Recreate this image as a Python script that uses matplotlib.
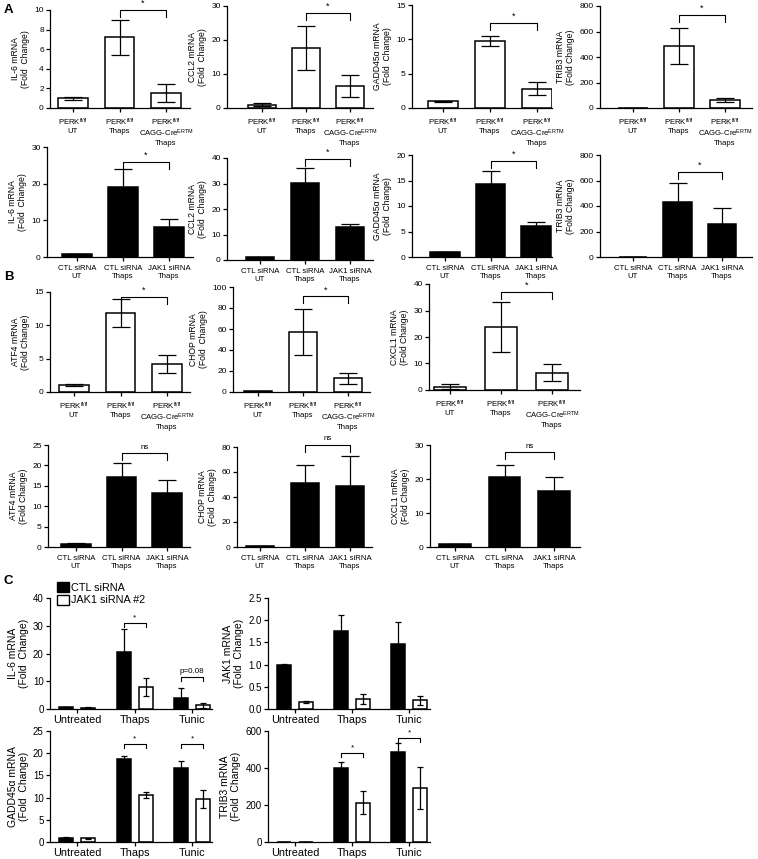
import matplotlib
matplotlib.use('Agg')
import matplotlib.pyplot as plt
import numpy as np
from matplotlib.patches import Patch

plt.rcParams['font.family'] = ['Liberation Sans', 'DejaVu Sans']
plt.rcParams['mathtext.fontset'] = 'custom'
plt.rcParams['mathtext.rm'] = 'Liberation Sans'
plt.rcParams['mathtext.it'] = 'Liberation Sans:italic'
plt.rcParams['mathtext.bf'] = 'Liberation Sans:bold'
plt.rcParams['axes.linewidth'] = 0.9

W, H = 758, 859

# tick labels
perk_labels = [r'PERK$^{\mathrm{fl/fl}}$' + '\nUT',
               r'PERK$^{\mathrm{fl/fl}}$' + '\nThaps',
               r'PERK$^{\mathrm{fl/fl}}$' + '\n' + r'CAGG-Cre$^{\mathrm{ERTM}}$' + '\nThaps']
sirna_labels = ['CTL siRNA\nUT', 'CTL siRNA\nThaps', 'JAK1 siRNA\nThaps']
treat_labels = ['Untreated', 'Thaps', 'Tunic']

# panel A, row 1 (PERK mice)
il6_a1 = [1.0, 7.2, 1.5]
il6_a1_err = [0.15, 1.8, 0.9]
ccl2_a1 = [1.0, 17.7, 6.4]
ccl2_a1_err = [0.5, 6.5, 3.3]
gadd_a1 = [1.0, 9.8, 2.8]
gadd_a1_err = [0.08, 0.7, 0.95]
trib3_a1 = [0, 485, 60]
trib3_a1_err = [0, 140, 15]

# panel A, row 2 (siRNA)
il6_a2 = [0.8, 19.0, 8.3]
il6_a2_err = [0.1, 5.0, 2.1]
ccl2_a2 = [1.0, 30.2, 12.8]
ccl2_a2_err = [0.1, 5.8, 1.2]
gadd_a2 = [1.0, 14.4, 6.0]
gadd_a2_err = [0.05, 2.4, 0.9]
trib3_a2 = [0, 430, 262]
trib3_a2_err = [0, 150, 120]

# panel B, row 1 (PERK mice)
atf4_b1 = [1.0, 11.9, 4.2]
atf4_b1_err = [0.15, 2.1, 1.4]
chop_b1 = [0.8, 57, 13]
chop_b1_err = [0.5, 22, 5.5]
cxcl1_b1 = [1.3, 23.7, 6.6]
cxcl1_b1_err = [1.0, 9.5, 3.3]

# panel B, row 2 (siRNA)
atf4_b2 = [0.8, 17.1, 13.3]
atf4_b2_err = [0.1, 3.4, 3.2]
chop_b2 = [0.8, 51.5, 48.5]
chop_b2_err = [0.1, 14, 24]
cxcl1_b2 = [0.8, 20.6, 16.5]
cxcl1_b2_err = [0.1, 3.6, 4.0]

# panel C (CTL siRNA vs JAK1 siRNA #2)
il6_ctl = [0.8, 20.5, 3.9]
il6_ctl_err = [0.1, 8.3, 3.6]
il6_jak = [0.5, 8.0, 1.3]
il6_jak_err = [0.1, 3.2, 1.0]
jak1_ctl = [1.0, 1.75, 1.47]
jak1_ctl_err = [0.02, 0.36, 0.48]
jak1_jak = [0.15, 0.22, 0.2]
jak1_jak_err = [0.02, 0.11, 0.1]
gadd_ctl = [1.0, 18.8, 16.7]
gadd_ctl_err = [0.1, 0.6, 1.6]
gadd_jak = [0.8, 10.5, 9.7]
gadd_jak_err = [0.05, 0.7, 2.1]
trib3_ctl = [0, 400, 487]
trib3_ctl_err = [0, 33, 48]
trib3_jak = [0, 212, 292]
trib3_jak_err = [0, 62, 113]

fig = plt.figure(figsize=(W / 100, H / 100), dpi=100)


def place(left, right, top, bottom):
    return fig.add_axes([left / W, 1 - bottom / H, (right - left) / W, (bottom - top) / H])


def style(ax, ymax, step, ylabel, fs_tick, fs_lab, fmt='{:g}'):
    ax.spines['top'].set_visible(False)
    ax.spines['right'].set_visible(False)
    ax.set_ylim(0, ymax)
    ticks = np.arange(0, ymax + step / 2, step)
    ax.set_yticks(ticks)
    ax.set_yticklabels([fmt.format(t) for t in ticks], fontsize=fs_tick)
    ax.tick_params(axis='both', direction='out', length=3, width=0.9, pad=1.5)
    ax.set_ylabel(ylabel, fontsize=fs_lab, linespacing=1.15, labelpad=3)


def bracket(ax, x1, x2, y, text, drop_px=7, fs=6):
    ymax = ax.get_ylim()[1]
    h_px = ax.get_position().height * H
    d = drop_px / h_px * ymax
    ax.plot([x1, x1, x2, x2], [y - d, y, y, y - d], color='black', lw=0.8, clip_on=False)
    ax.annotate(text, (np.mean([x1, x2]), y), xytext=(0, 1.5), textcoords='offset points',
                ha='center', va='bottom', fontsize=fs, annotation_clip=False)


def three_bar(box, vals, errs, ymax, step, ylabel, labels, fill, sig_y, sig_text):
    spine, right, c0, c2, top, bottom = box
    s = (c2 - c0) / 2
    ax = place(spine, right, top, bottom)
    x = np.arange(3)
    ax.bar(x, vals, width=0.64, color=fill, edgecolor='black', linewidth=1.1, zorder=2)
    ax.errorbar(x, vals, yerr=errs, fmt='none', ecolor='black', elinewidth=0.9,
                capsize=6.5, capthick=0.9, zorder=3)
    ax.set_xlim((spine - c0) / s, (right - c0) / s)
    style(ax, ymax, step, ylabel, 6, 6.2)
    ax.set_xticks(x)
    ax.set_xticklabels(labels, fontsize=5.6, linespacing=1.05)
    ax.tick_params(axis='x', pad=3)
    bracket(ax, 1, 2, sig_y, sig_text, fs=6.5 if sig_text == '*' else 5.8)
    return ax


def grouped(box, ctl, ctl_e, jak, jak_e, ymax, step, ylabel, fmt, sigs):
    spine, right, c0, c2, top, bottom = box
    s = (c2 - c0) / 2
    ax = place(spine, right, top, bottom)
    x = np.arange(3)
    off = 11 / s
    w = 14 / s
    ax.bar(x - off, ctl, width=w, color='black', edgecolor='black', linewidth=1.1, zorder=2)
    ax.bar(x + off, jak, width=w, color='white', edgecolor='black', linewidth=1.1, zorder=2)
    ax.errorbar(x - off, ctl, yerr=ctl_e, fmt='none', ecolor='black', elinewidth=0.9,
                capsize=2.4, capthick=0.9, zorder=3)
    ax.errorbar(x + off, jak, yerr=jak_e, fmt='none', ecolor='black', elinewidth=0.9,
                capsize=2.4, capthick=0.9, zorder=3)
    ax.set_xlim((spine - c0) / s, (right - c0) / s)
    style(ax, ymax, step, ylabel, 7, 7.5, fmt)
    ax.set_xticks(x)
    ax.set_xticklabels(treat_labels, fontsize=7.8)
    for gi, y, txt in sigs:
        bracket(ax, gi - off, gi + off, y, txt, drop_px=4, fs=5.8)
    return ax


# ---- A row 1
three_bar((50, 190, 73, 166, 10, 108), il6_a1, il6_a1_err, 10, 2,
          'IL-6 mRNA\n(Fold  Change)', perk_labels, 'white', 10.0, '*')
three_bar((227, 373, 262, 350, 6, 108), ccl2_a1, ccl2_a1_err, 30, 10,
          'CCL2 mRNA\n(Fold  Change)', perk_labels, 'white', 27.9, '*')
three_bar((412, 552, 443, 537, 5, 108), gadd_a1, gadd_a1_err, 15, 5,
          'GADD45α mRNA\n(Fold  Change)', perk_labels, 'white', 12.4, '*')
three_bar((600, 752, 633, 725, 6, 108), trib3_a1, trib3_a1_err, 800, 200,
          'TRIB3 mRNA\n(Fold Change)', perk_labels, 'white', 729, '*')

# ---- A row 2
three_bar((47, 193, 77, 169, 147, 257), il6_a2, il6_a2_err, 30, 10,
          'IL-6 mRNA\n(Fold  Change)', sirna_labels, 'black', 25.9, '*')
three_bar((227, 373, 260, 350, 158, 260), ccl2_a2, ccl2_a2_err, 40, 10,
          'CCL2 mRNA\n(Fold  Change)', sirna_labels, 'black', 39.5, '*')
three_bar((412, 552, 445, 536, 155, 257), gadd_a2, gadd_a2_err, 20, 5,
          'GADD45α mRNA\n(Fold  Change)', sirna_labels, 'black', 18.8, '*')
three_bar((600, 752, 633, 722, 155, 257), trib3_a2, trib3_a2_err, 800, 200,
          'TRIB3 mRNA\n(Fold Change)', sirna_labels, 'black', 667, '*')

# ---- B row 1
three_bar((50, 190, 74, 167, 292, 392), atf4_b1, atf4_b1_err, 15, 5,
          'ATF4 mRNA\n(Fold Change)', perk_labels, 'white', 14.3, '*')
three_bar((233, 370, 258, 348, 287, 392), chop_b1, chop_b1_err, 100, 20,
          'CHOP mRNA\n(Fold  Change)', perk_labels, 'white', 91, '*')
three_bar((429, 580, 450, 552, 284, 390), cxcl1_b1, cxcl1_b1_err, 40, 10,
          'CXCL1 mRNA\n(Fold Change)', perk_labels, 'white', 37, '*')

# ---- B row 2
three_bar((48, 190, 76, 167, 445, 547), atf4_b2, atf4_b2_err, 25, 5,
          'ATF4 mRNA\n(Fold Change)', sirna_labels, 'black', 23, 'ns')
three_bar((237, 372, 260, 350, 447, 547), chop_b2, chop_b2_err, 80, 20,
          'CHOP mRNA\n(Fold  Change)', sirna_labels, 'black', 82, 'ns')
three_bar((430, 580, 455, 554, 445, 547), cxcl1_b2, cxcl1_b2_err, 30, 10,
          'CXCL1 mRNA\n(Fold Change)', sirna_labels, 'black', 27.9, 'ns')

# ---- C
grouped((50, 212, 77, 192, 598, 709), il6_ctl, il6_ctl_err, il6_jak, il6_jak_err,
        40, 10, 'IL-6 mRNA\n(Fold  Change)', '{:g}', [(1, 31, '*'), (2, 11.4, 'p=0.08')])
grouped((268, 430, 295, 409, 598, 709), jak1_ctl, jak1_ctl_err, jak1_jak, jak1_jak_err,
        2.5, 0.5, 'JAK1 mRNA\n(Fold  Change)', '{:.1f}', [])
grouped((50, 212, 77, 192, 731, 842), gadd_ctl, gadd_ctl_err, gadd_jak, gadd_jak_err,
        25, 5, 'GADD45α mRNA\n(Fold  Change)', '{:g}', [(1, 22, '*'), (2, 22, '*')])
grouped((268, 430, 295, 409, 731, 842), trib3_ctl, trib3_ctl_err, trib3_jak, trib3_jak_err,
        600, 200, 'TRIB3 mRNA\n(Fold  Change)', '{:g}', [(1, 481, '*'), (2, 562, '*')])

handles = [Patch(facecolor='black', edgecolor='black', label='CTL siRNA'),
           Patch(facecolor='white', edgecolor='black', label='JAK1 siRNA #2')]
fig.legend(handles=handles, loc='upper left', bbox_to_anchor=(57 / W, 1 - 582 / H),
           frameon=False, fontsize=7.8, handlelength=1.1, handleheight=1.1,
           handletextpad=0.2, labelspacing=0.15, borderaxespad=0, borderpad=0)

# panel letters
for letter, px, py in [('A', 4, 10), ('B', 4, 277), ('C', 4, 581)]:
    fig.text(px / W, 1 - py / H, letter, fontsize=9.5, fontweight='bold', ha='left', va='center')

fig.savefig('out.png', dpi=100)
